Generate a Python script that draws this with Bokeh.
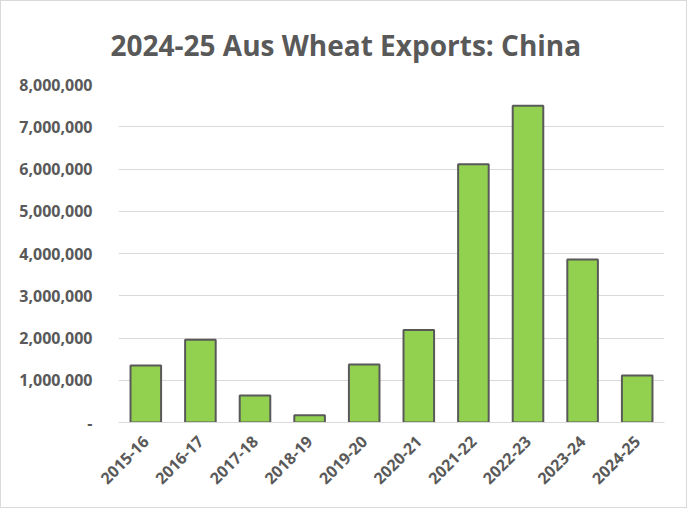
from bokeh.plotting import figure
from bokeh.models import FactorRange, Range1d, FixedTicker, CustomJSTickFormatter, ColumnDataSource
from bokeh.embed import file_html
from bokeh.resources import INLINE
import math

title_text = "2024-25 Aus Wheat Exports: China"
categories = ["2015-16", "2016-17", "2017-18", "2018-19", "2019-20",
              "2020-21", "2021-22", "2022-23", "2023-24", "2024-25"]
exports = [1350000, 1960000, 640000, 170000, 1370000,
           2190000, 6110000, 7500000, 3860000, 1110000]
y_ticks = [0, 1000000, 2000000, 3000000, 4000000, 5000000, 6000000, 7000000, 8000000]

src = ColumnDataSource(dict(cat=categories, val=exports))

p = figure(width=687, height=508, output_backend="svg", toolbar_location=None,
           x_range=FactorRange(*categories, range_padding=0),
           y_range=Range1d(0, 8000000),
           min_border_left=117, min_border_right=24, min_border_top=83, min_border_bottom=87,
           title=title_text)

p.title.align = "left"
p.title.text_font = "Open Sans"
p.title.text_font_size = "28px"
p.title.text_font_style = "bold"
p.title.text_color = "#595959"
p.title.standoff = 41
p.title.offset = -8

p.vbar(x="cat", top="val", width=0.56, source=src,
       fill_color="#92D050", line_color="#595959", line_width=2)

p.outline_line_color = None
p.xgrid.grid_line_color = None
p.ygrid.grid_line_color = "#d9d9d9"
p.ygrid.grid_line_width = 1

p.yaxis.ticker = FixedTicker(ticks=y_ticks)
p.yaxis.formatter = CustomJSTickFormatter(code="""
if (tick == 0) { return "-"; }
return tick.toLocaleString('en-US');
""")
p.yaxis.axis_line_color = None
p.yaxis.major_tick_line_color = None
p.yaxis.minor_tick_line_color = None
p.yaxis.major_label_standoff = 20

p.xaxis.axis_line_color = "#d9d9d9"
p.xaxis.major_tick_line_color = None
p.xaxis.minor_tick_line_color = None
p.xaxis.major_label_orientation = math.pi / 4
p.xaxis.major_label_standoff = 10

for ax in (p.xaxis[0], p.yaxis[0]):
    ax.major_label_text_font = "Open Sans"
    ax.major_label_text_font_size = "16px"
    ax.major_label_text_font_style = "bold"
    ax.major_label_text_color = "#595959"

p.styles = {"border": "1px solid #d9d9d9", "box-sizing": "border-box"}

open("out.html", "w").write(file_html(p, INLINE))
